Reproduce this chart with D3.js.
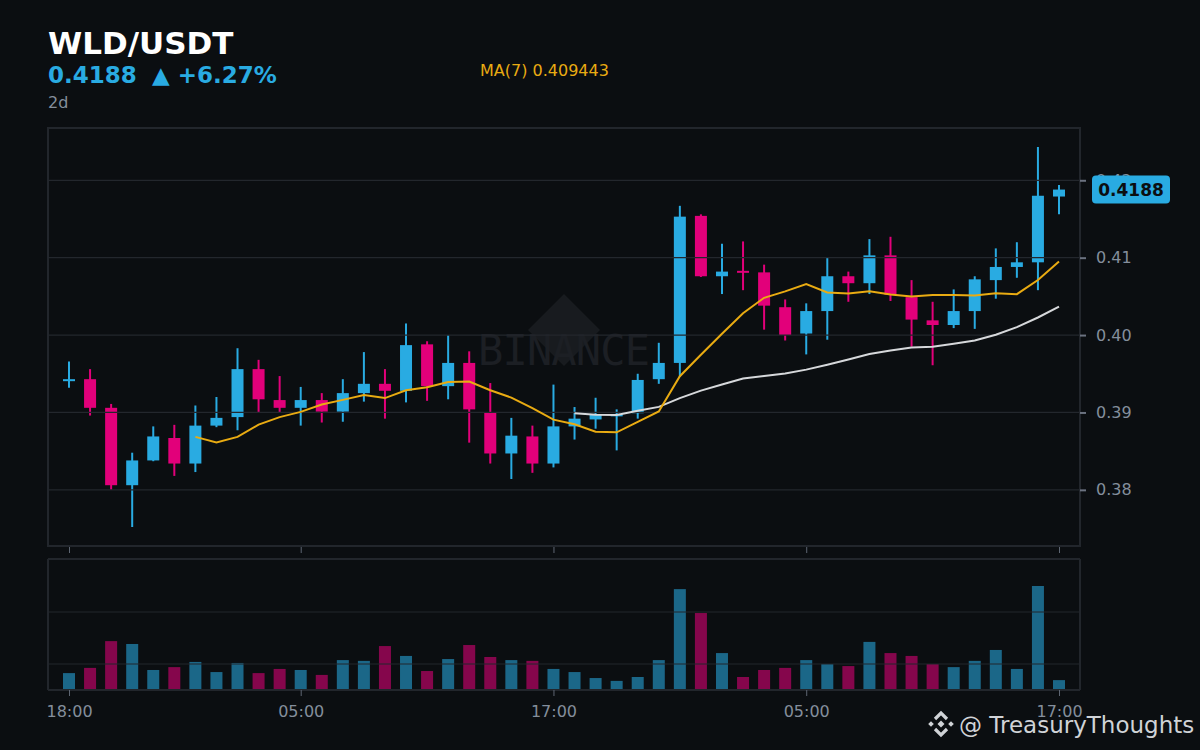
<!DOCTYPE html>
<html>
<head>
<meta charset="utf-8">
<script src="https://cdn.jsdelivr.net/npm/d3@7"></script>
<style>
  body { margin: 0; background: #0b0e11; }
  text { font-family: 'DejaVu Sans', sans-serif; }
</style>
</head>
<body>
<script>
// hourly candles, WLD/USDT, 18:00 -> 17:00 two days later
var opens  = [0.3941, 0.3943, 0.3906, 0.3806, 0.3838, 0.3867, 0.3834, 0.3883, 0.3894, 0.3956,
              0.3916, 0.3906, 0.3916, 0.3901, 0.3925, 0.3937, 0.3928, 0.3988, 0.3934, 0.3964,
              0.3900, 0.3847, 0.3869, 0.3834, 0.3882, 0.3891, 0.3895, 0.3899, 0.3943, 0.3964,
              0.4154, 0.4076, 0.4083, 0.4081, 0.4036, 0.4002, 0.4031, 0.4076, 0.4067, 0.4103,
              0.4049, 0.4019, 0.4013, 0.4031, 0.4071, 0.4088, 0.4094, 0.4179];
var highs  = [0.3966, 0.3956, 0.3911, 0.3848, 0.3882, 0.3884, 0.3909, 0.3920, 0.3983, 0.3968,
              0.3947, 0.3933, 0.3925, 0.3943, 0.3978, 0.3956, 0.4015, 0.3992, 0.4000, 0.3979,
              0.3938, 0.3893, 0.3883, 0.3936, 0.3907, 0.3919, 0.3904, 0.3950, 0.3990, 0.4167,
              0.4156, 0.4118, 0.4121, 0.4091, 0.4046, 0.4041, 0.4100, 0.4082, 0.4124, 0.4127,
              0.4071, 0.4043, 0.4059, 0.4076, 0.4112, 0.4120, 0.4243, 0.4194];
var lows   = [0.3932, 0.3896, 0.3800, 0.3752, 0.3837, 0.3818, 0.3823, 0.3881, 0.3877, 0.3900,
              0.3900, 0.3883, 0.3887, 0.3888, 0.3914, 0.3892, 0.3913, 0.3915, 0.3917, 0.3861,
              0.3834, 0.3814, 0.3822, 0.3829, 0.3865, 0.3879, 0.3851, 0.3892, 0.3937, 0.3946,
              0.4075, 0.4053, 0.4058, 0.4007, 0.3993, 0.3975, 0.3994, 0.4043, 0.4053, 0.4044,
              0.3985, 0.3961, 0.4009, 0.4008, 0.4047, 0.4074, 0.4058, 0.4156];
var closes = [0.3943, 0.3906, 0.3806, 0.3838, 0.3869, 0.3834, 0.3883, 0.3893, 0.3956, 0.3917,
              0.3906, 0.3916, 0.3901, 0.3925, 0.3937, 0.3928, 0.3987, 0.3934, 0.3964, 0.3904,
              0.3847, 0.3870, 0.3834, 0.3882, 0.3892, 0.3897, 0.3898, 0.3942, 0.3964, 0.4153,
              0.4076, 0.4082, 0.4082, 0.4038, 0.4000, 0.4031, 0.4076, 0.4067, 0.4103, 0.4052,
              0.4020, 0.4013, 0.4031, 0.4072, 0.4088, 0.4094, 0.4180, 0.4188];
// volume in millions (axis labels hidden in the reference)
var volumes = [1.65, 1.85, 2.88, 2.77, 1.77, 1.88, 2.08, 1.69, 2.04, 1.65,
               1.81, 1.77, 1.58, 2.15, 2.12, 2.69, 2.31, 1.73, 2.19, 2.73,
               2.27, 2.15, 2.12, 1.81, 1.69, 1.46, 1.35, 1.50, 2.15, 4.88,
               3.96, 2.42, 1.50, 1.77, 1.85, 2.15, 2.00, 1.92, 2.85, 2.42,
               2.31, 2.00, 1.88, 2.12, 2.54, 1.81, 5.00, 1.38];
var xTickIndex = [0, 11, 23, 35, 47];
var maLabelValue = '0.409443';

var blue = '#29abe2', red = '#e2007a', gold = '#e9ab12', bg = '#0b0e11';

var dates = closes.map(function (d, i) {
  return d3.timeHour.offset(new Date(2024, 0, 1, 18), i);
});

var candles = closes.map(function (c, i) {
  return {date: dates[i], o: opens[i], h: highs[i], l: lows[i], c: c, v: volumes[i]};
});

// moving averages of closes
var movingAvg = function (n) {
  var out = [];
  for (var i = n - 1; i < closes.length; i++) {
    out.push({date: dates[i], v: d3.mean(closes.slice(i - n + 1, i + 1))});
  }
  return out;
};
var ma7 = movingAvg(7), ma25 = movingAvg(25);

var main = {left: 48, right: 1080, top: 128, bottom: 546};
var volP = {top: 559, bottom: 690};

var svg = d3.select('body').append('svg')
    .attr('width', 1200)
    .attr('height', 750);

svg.append('rect').attr('width', 1200).attr('height', 750).attr('fill', bg);

var xScale = d3.scaleTime()
    .domain([dates[0], dates[dates.length - 1]])
    .range([69, 1059]);

var lo = d3.min(lows), hi = d3.max(highs), pad = (hi - lo) * 0.05;
var yScale = d3.scaleLinear()
    .domain([lo - pad, hi + pad])
    .range([main.bottom, main.top]);

var vScale = d3.scaleLinear()
    .domain([1, 6])
    .range([volP.bottom, volP.top + 1]);

// header
svg.append('text').attr('x', 48).attr('y', 54)
  .attr('fill', '#ffffff').attr('font-size', 31).attr('font-weight', 'bold')
  .text('WLD/USDT');
var last = closes[closes.length - 1];
var chg = (last / opens[0] - 1) * 100;
svg.append('text').attr('x', 48).attr('y', 83)
  .attr('fill', blue).attr('font-size', 23).attr('font-weight', 'bold')
  .text(d3.format('.4f')(last));
svg.append('text').attr('x', 152).attr('y', 83)
  .attr('fill', blue).attr('font-size', 23).attr('font-weight', 'bold')
  .text('\u25B2 +' + d3.format('.2f')(chg) + '%');
svg.append('text').attr('x', 48).attr('y', 108)
  .attr('fill', '#848e9c').attr('font-size', 16)
  .text('2d');
svg.append('text').attr('x', 480).attr('y', 76)
  .attr('fill', gold).attr('font-size', 16)
  .text('MA(7) ' + maLabelValue);

// panels
svg.append('rect')
  .attr('x', main.left).attr('y', main.top)
  .attr('width', main.right - main.left).attr('height', main.bottom - main.top)
  .attr('fill', 'none').attr('stroke', '#22262c').attr('stroke-width', 2);

// watermark
var wm = svg.append('g');
wm.append('path')
  .attr('d', 'M564,294 L600,330 L564,366 L528,330 Z')
  .attr('fill', '#181b1f');
wm.append('text')
  .attr('x', 564).attr('y', 365)
  .attr('text-anchor', 'middle')
  .style('font-family', "'DejaVu Sans Mono', monospace")
  .attr('font-size', 42)
  .attr('textLength', 172)
  .attr('fill', '#1c1f24')
  .text('BINANCE');

// candles
var cg = svg.append('g');
cg.selectAll('line.wick')
  .data(candles)
  .enter()
  .append('line')
  .attr('x1', function (d) { return xScale(d.date); })
  .attr('x2', function (d) { return xScale(d.date); })
  .attr('y1', function (d) { return yScale(d.h); })
  .attr('y2', function (d) { return yScale(d.l); })
  .attr('stroke', function (d) { return d.c >= d.o ? blue : red; })
  .attr('stroke-width', 2);

cg.selectAll('rect.body')
  .data(candles)
  .enter()
  .append('rect')
  .attr('x', function (d) { return xScale(d.date) - 6; })
  .attr('width', 12)
  .attr('y', function (d) { return yScale(Math.max(d.o, d.c)); })
  .attr('height', function (d) {
    return Math.max(2, Math.abs(yScale(d.o) - yScale(d.c)));
  })
  .attr('fill', function (d) { return d.c >= d.o ? blue : red; });

// grid on top of candles
var yTicks = yScale.ticks(5);
svg.append('g').selectAll('line')
  .data(yTicks)
  .enter()
  .append('line')
  .attr('x1', main.left).attr('x2', main.right)
  .attr('y1', function (d) { return yScale(d); })
  .attr('y2', function (d) { return yScale(d); })
  .attr('stroke', '#23272d').attr('stroke-width', 1.2);

// moving averages
var maLine = d3.line()
  .x(function (d) { return xScale(d.date); })
  .y(function (d) { return yScale(d.v); });
svg.append('path').datum(ma25)
  .attr('d', maLine).attr('fill', 'none')
  .attr('stroke', '#d6d8db').attr('stroke-width', 2);
svg.append('path').datum(ma7)
  .attr('d', maLine).attr('fill', 'none')
  .attr('stroke', gold).attr('stroke-width', 2);

// right price axis
var yAxis = d3.axisRight(yScale)
  .tickValues(yTicks)
  .tickSize(6)
  .tickPadding(10)
  .tickFormat(d3.format('.2f'));
var ya = svg.append('g')
  .attr('transform', 'translate(' + main.right + ',0)')
  .call(yAxis);
ya.select('.domain').remove();
ya.selectAll('line').attr('stroke', '#6b7280').attr('stroke-width', 2);
ya.selectAll('text').attr('fill', '#848e9c').attr('font-size', 16)
  .attr('font-family', 'DejaVu Sans, sans-serif');

// last price badge
var ly = yScale(last);
svg.append('rect')
  .attr('x', 1092).attr('y', ly - 14)
  .attr('width', 78).attr('height', 28)
  .attr('rx', 4)
  .attr('fill', blue);
svg.append('text')
  .attr('x', 1131).attr('y', ly + 6)
  .attr('text-anchor', 'middle')
  .attr('font-size', 17).attr('font-weight', 'bold')
  .attr('fill', bg)
  .text(d3.format('.4f')(last));

// x ticks under main panel (no labels)
var xTickVals = xTickIndex.map(function (i) { return dates[i]; });
var xa1 = svg.append('g')
  .attr('transform', 'translate(0,' + (main.bottom + 1) + ')')
  .call(d3.axisBottom(xScale).tickValues(xTickVals).tickSize(6).tickFormat(''));
xa1.select('.domain').remove();
xa1.selectAll('line').attr('stroke', '#5e6673');

// volume panel
svg.append('line')
  .attr('x1', main.left).attr('x2', main.right)
  .attr('y1', volP.top).attr('y2', volP.top)
  .attr('stroke', '#22262c').attr('stroke-width', 2);
svg.append('line')
  .attr('x1', main.left).attr('x2', main.left)
  .attr('y1', volP.top).attr('y2', volP.bottom)
  .attr('stroke', '#22262c').attr('stroke-width', 2);
svg.append('line')
  .attr('x1', main.right).attr('x2', main.right)
  .attr('y1', volP.top).attr('y2', volP.bottom)
  .attr('stroke', '#22262c').attr('stroke-width', 2);

svg.append('g').selectAll('rect')
  .data(candles)
  .enter()
  .append('rect')
  .attr('x', function (d) { return xScale(d.date) - 6; })
  .attr('width', 12)
  .attr('y', function (d) { return vScale(d.v); })
  .attr('height', function (d) { return volP.bottom - vScale(d.v); })
  .attr('fill', function (d) { return d.c >= d.o ? blue : red; })
  .attr('fill-opacity', 0.57);

svg.append('g').selectAll('line')
  .data([2, 4])
  .enter()
  .append('line')
  .attr('x1', main.left).attr('x2', main.right)
  .attr('y1', function (d) { return vScale(d); })
  .attr('y2', function (d) { return vScale(d); })
  .attr('stroke', '#23272d').attr('stroke-width', 1.2);

var xa2 = svg.append('g')
  .attr('transform', 'translate(0,' + volP.bottom + ')')
  .call(d3.axisBottom(xScale).tickValues(xTickVals).tickSize(6).tickPadding(10)
    .tickFormat(d3.timeFormat('%H:%M')));
xa2.select('.domain')
  .attr('d', 'M' + main.left + ',0H' + main.right)
  .attr('stroke', '#22262c').attr('stroke-width', 2);
xa2.selectAll('line').attr('stroke', '#5e6673');
xa2.selectAll('text').attr('fill', '#848e9c').attr('font-size', 16)
  .attr('font-family', 'DejaVu Sans, sans-serif');

// signature with logo
var logo = svg.append('g').attr('transform', 'translate(941,724)')
  .attr('fill', '#d0d3d7').attr('stroke', '#d0d3d7');
logo.append('path').attr('d', 'M0,-3.5L3.5,0L0,3.5L-3.5,0Z').attr('stroke', 'none');
logo.append('path').attr('d', 'M-10,-2.8L-7.2,0L-10,2.8L-12.8,0Z').attr('stroke', 'none');
logo.append('path').attr('d', 'M10,-2.8L12.8,0L10,2.8L7.2,0Z').attr('stroke', 'none');
logo.append('path').attr('d', 'M-6,-5L0,-11L6,-5').attr('fill', 'none').attr('stroke-width', 3.2);
logo.append('path').attr('d', 'M-6,5L0,11L6,5').attr('fill', 'none').attr('stroke-width', 3.2);

svg.append('text')
  .attr('x', 959).attr('y', 733)
  .attr('fill', '#d0d3d7').attr('font-size', 23)
  .text('@ TreasuryThoughts');
</script>
</body>
</html>
